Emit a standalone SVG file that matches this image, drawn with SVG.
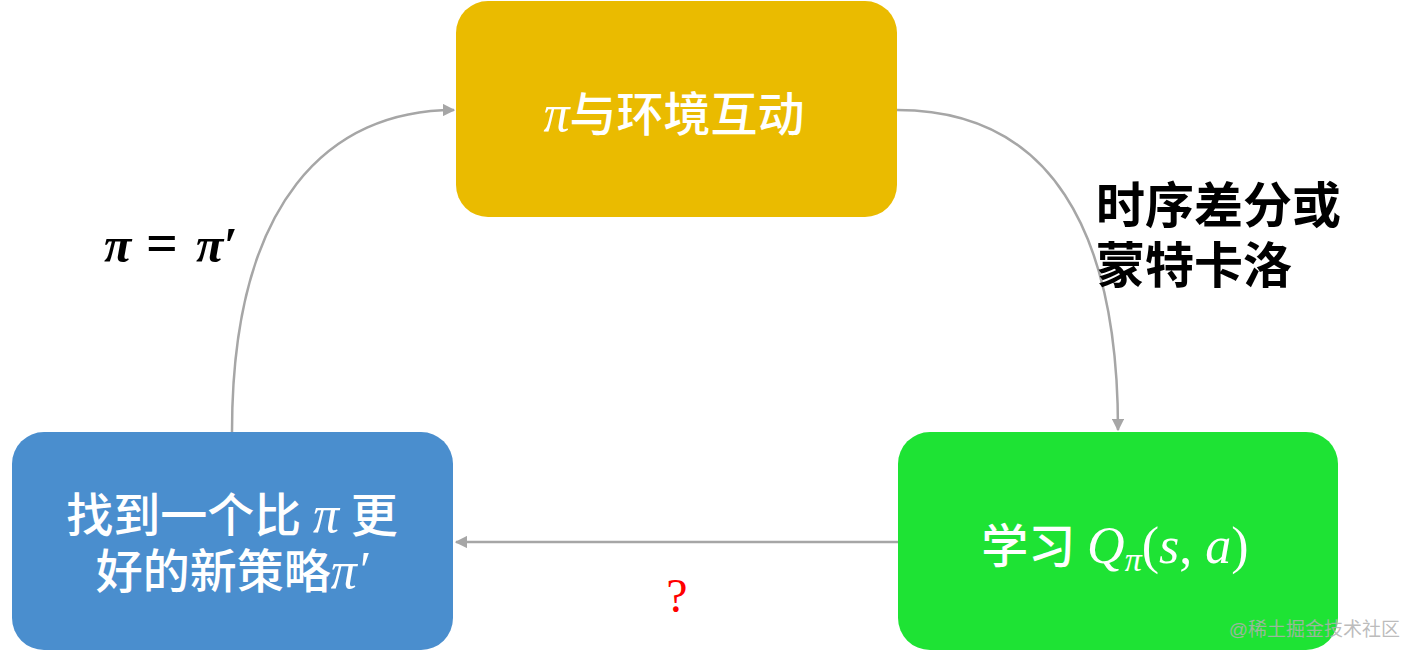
<svg xmlns="http://www.w3.org/2000/svg" width="1422" height="658" viewBox="0 0 1422 658">
<defs>
<style>
.cjk{font-family:"Liberation Serif","Noto Sans CJK SC",serif;fill:#fff;font-size:47px;font-weight:500}
.m{font-family:"Liberation Serif","DejaVu Serif",serif;font-style:italic;font-weight:normal}
.r{font-family:"Liberation Serif","DejaVu Serif",serif;font-style:normal;font-weight:normal}
.lbl{font-family:"Liberation Sans","Noto Sans CJK SC",sans-serif;font-weight:bold;font-size:49px;fill:#000}
.conn{fill:none;stroke:#a6a6a6;stroke-width:2.5}
</style>
<marker id="ah" viewBox="0 0 10 10" refX="9" refY="5" markerWidth="5" markerHeight="5" orient="auto" markerUnits="strokeWidth">
<path d="M0,0 L10,5 L0,10 z" fill="#a6a6a6"/>
</marker>
</defs>
<rect width="1422" height="658" fill="#fff"/>
<g id="connectors">
<path class="conn" d="M897,110 C1050,110 1118,230 1118,430" marker-end="url(#ah)"/>
<path class="conn" d="M898,542 L456,542" marker-end="url(#ah)"/>
<path class="conn" d="M232,432 C232,200 330,110 454,110" marker-end="url(#ah)"/>
</g>
<g id="node-top">
<rect x="456" y="1" width="441" height="216" rx="32" fill="#eabb00"/>
<text x="674" y="131" text-anchor="middle" class="cjk"><tspan class="m" font-size="52">π</tspan>与环境互动</text>
</g>
<g id="node-right">
<rect x="898" y="432" width="440" height="218" rx="32" fill="#1ee334"/>
<text x="1115" y="563" text-anchor="middle" class="cjk">学习 <tspan class="m" font-size="52">Q</tspan><tspan class="m" font-size="34" dy="8">π</tspan><tspan class="r" font-size="52" dy="-8">(</tspan><tspan class="m" font-size="52">s</tspan><tspan class="r" font-size="52">, </tspan><tspan class="m" font-size="52">a</tspan><tspan class="r" font-size="52">)</tspan></text>
</g>
<g id="node-left">
<rect x="12" y="432" width="441" height="218" rx="32" fill="#4a8ece"/>
<text x="232" y="532" text-anchor="middle" class="cjk" font-size="48">找到一个比 <tspan class="m" font-size="52">π</tspan> 更</text>
<text x="232" y="588" text-anchor="middle" class="cjk" font-size="48">好的新策略<tspan class="m" font-size="52">π′</tspan></text>
</g>
<g id="labels">
<text y="262" font-family="Liberation Serif,serif" font-size="50" font-weight="bold"><tspan x="104" font-style="italic">π</tspan><tspan x="146" font-size="56">=</tspan><tspan x="196" font-style="italic">π′</tspan></text>
<text x="1096" y="223" class="lbl">时序差分或</text>
<text x="1096" y="283" class="lbl">蒙特卡洛</text>
<text x="677" y="612" text-anchor="middle" font-family="Liberation Serif,serif" font-size="48" fill="#ff0000">?</text>
<text x="1400" y="636" text-anchor="end" font-family="Liberation Sans,Noto Sans CJK SC,sans-serif" font-size="19" fill="#b0b0b0" fill-opacity="0.85">@稀土掘金技术社区</text>
</g>
</svg>
